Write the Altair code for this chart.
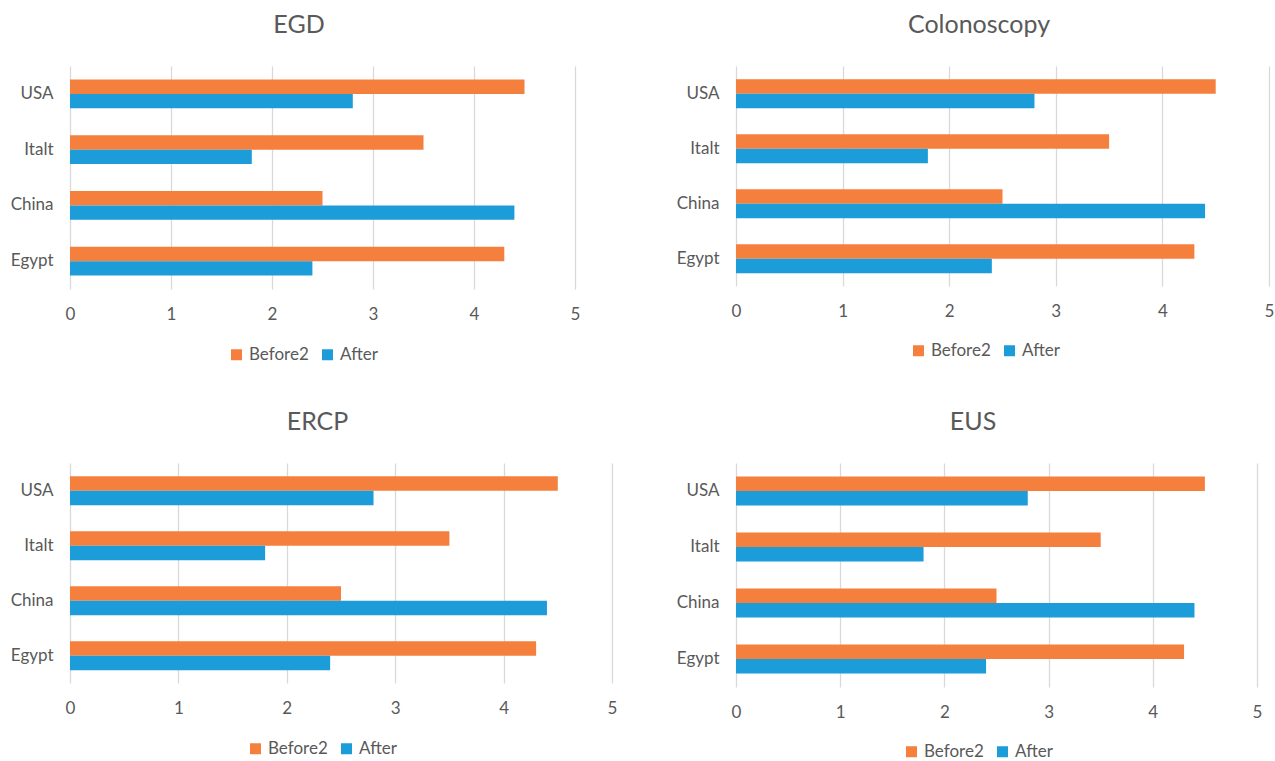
import altair as alt
import pandas as pd

# Survey scores per country, before and after, repeated for each procedure
procedures = ["EGD", "Colonoscopy", "ERCP", "EUS"]
countries = ["USA", "Italt", "China", "Egypt"]
series_names = ["Before2", "After"]
before2 = [4.5, 3.5, 2.5, 4.3]
after = [2.8, 1.8, 4.4, 2.4]
x_ticks = [0, 1, 2, 3, 4, 5]

ORANGE = "#F5803E"
BLUE = "#1C9DD9"
TEXT = "#595959"
GRID = "#D9D9D9"
FONT = "Lato"

rows = []
for proc in procedures:
    for c, b, a in zip(countries, before2, after):
        rows.append({"procedure": proc, "country": c, "series": "Before2", "value": b})
        rows.append({"procedure": proc, "country": c, "series": "After", "value": a})
df = pd.DataFrame(rows)

# per-panel plot size and legend placement (relative to the plot area)
panel_layout = {
    "EGD": dict(width=505, height=223, lx=158, ly=280),
    "Colonoscopy": dict(width=533, height=220, lx=174, ly=276),
    "ERCP": dict(width=542, height=220, lx=177, ly=277),
    "EUS": dict(width=521, height=224, lx=167, ly=280),
}


def panel(proc):
    g = panel_layout[proc]
    return (
        alt.Chart(df)
        .transform_filter(alt.datum.procedure == proc)
        .mark_bar()
        .encode(
            x=alt.X(
                "value:Q",
                scale=alt.Scale(domain=[0, 5], nice=False),
                axis=alt.Axis(
                    values=x_ticks, title=None, grid=True, domain=False,
                    ticks=False, labelPadding=17, format="d", labelFlush=False,
                ),
            ),
            y=alt.Y(
                "country:N",
                sort=countries,
                scale=alt.Scale(paddingInner=0.48, paddingOuter=0.24),
                axis=alt.Axis(title=None, domain=False, ticks=False, labelPadding=17, grid=False),
            ),
            yOffset=alt.YOffset("series:N", sort=series_names),
            color=alt.Color(
                "series:N",
                sort=series_names,
                scale=alt.Scale(domain=series_names, range=[ORANGE, BLUE]),
                legend=alt.Legend(
                    title=None, orient="none", legendX=g["lx"], legendY=g["ly"],
                    direction="horizontal",
                ),
            ),
        )
        .properties(
            width=g["width"],
            height=g["height"],
            title=alt.TitleParams(proc, anchor="middle", dx=-23.5, offset=8, baseline="alphabetic"),
        )
    )


chart = (
    alt.concat(
        *[panel(p) for p in procedures],
        columns=2,
        bounds="flush",
        align="each",
        spacing={"row": 174, "column": 124},
    )
    .resolve_scale(color="independent")
    .properties(padding={"left": 10, "top": 13, "right": 0, "bottom": 0}, background="white")
    .configure_view(stroke=None)
    .configure_axis(
        labelFont=FONT, labelFontSize=17, labelColor=TEXT,
        gridColor=GRID, gridWidth=1.3,
    )
    .configure_legend(
        labelFont=FONT, labelFontSize=17, labelColor=TEXT,
        symbolType="square", symbolSize=121, symbolStrokeWidth=0,
        labelOffset=4, columnPadding=10, padding=0,
    )
    .configure_title(font=FONT, fontSize=25, color=TEXT, fontWeight="normal")
)

chart.save("out.html", embed_options={"renderer": "svg", "actions": False})
